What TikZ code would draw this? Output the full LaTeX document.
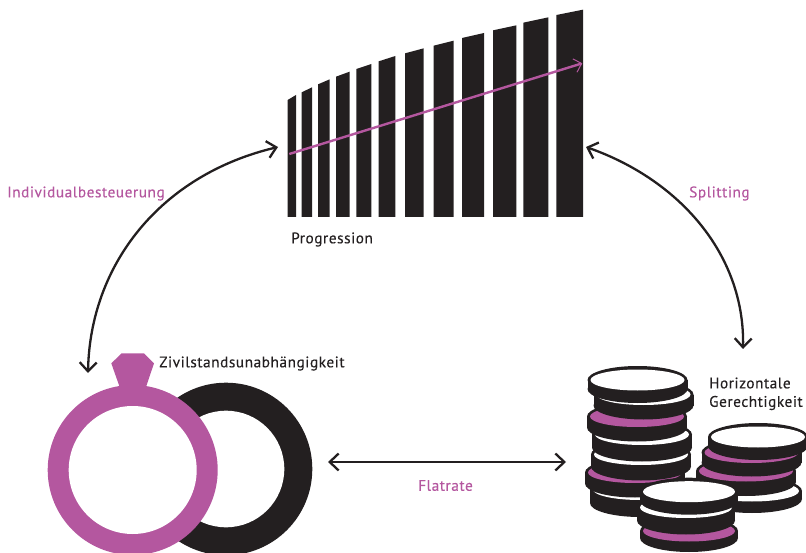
\documentclass[tikz,border=0pt]{standalone}
\usepackage{fontspec}
\setmainfont[LetterSpace=3.6,FakeBold=0.25]{PT Sans}
\usetikzlibrary{arrows.meta}
\definecolor{inkblack}{HTML}{231F20}
\definecolor{ringpink}{HTML}{B4579F}
\newcommand{\coin}[5]{% x, y, half width, face colour, thickness
  \fill[inkblack] (#1,#2) ellipse[x radius=#3,y radius=14];
  \fill[inkblack] (#1,#2+#5) ellipse[x radius=#3,y radius=14];
  \fill[inkblack] (#1-#3,#2) rectangle (#1+#3,#2+#5);
  \fill[#4] (#1,#2) ellipse[x radius=#3-3,y radius=10.5];
}
\begin{document}
\begin{tikzpicture}[x=1pt,y=-1pt,
    label/.style={font=\fontsize{15.3}{20}\selectfont,text=inkblack,anchor=west,inner sep=0pt},
    pinklabel/.style={label,text=ringpink},
    link/.style={draw=inkblack,line width=2.3pt,{Straight Barb[length=9pt,width=17pt]}-{Straight Barb[length=9pt,width=17pt]}}]
\useasboundingbox (0,0) rectangle (806,553);
\clip (0,0) rectangle (806,553);
% bars
\foreach \xa/\xb/\ya/\yb in {53/78/300/285,95/126/277/262,144/179/253/238,198/239/230/215,259/304/207/192,326/376/184/168,405/461/160/145,491/551/137/122,576/642/114/99,669/739/91/76,760/835/68/52,859/939/45/29}
  \fill[inkblack] (270+\xa/3,651/3) -- (270+\xa/3,\ya/3) -- (270+\xb/3,\yb/3) -- (270+\xb/3,651/3) -- cycle;
\coordinate (riseA) at (289.3,154);
\coordinate (riseB) at (582.3,63.3);
\draw[ringpink,line width=2.4pt,-{Straight Barb[length=7pt,width=14pt,line width=1pt]}] (riseA) -- (riseB);
% rings
\fill[inkblack] (226,469) circle[radius=86.3];
\fill[white] (226,469) circle[radius=58.3];
\fill[ringpink] (132.7,470) circle[radius=85];
\fill[white] (132.7,470) circle[radius=64];
\fill[ringpink] (121.7,353.3) -- (144,353.3) -- (154,363.3) -- (145.7,388) -- (120,388) -- (111.3,363.3) -- cycle;
% coins, left pile
\coin{640}{489.5}{50}{white}{13.5}
\coin{635}{472.5}{50}{ringpink}{11}
\coin{641}{454.5}{50}{white}{12}
\coin{642}{434.5}{50}{white}{13}
\coin{637}{416.5}{50}{ringpink}{11}
\coin{643.5}{394.5}{50}{white}{11}
\coin{637.5}{380}{50}{white}{9}
% coins, right pile
\coin{752}{491}{50}{white}{8}
\coin{746}{471}{50}{ringpink}{11}
\coin{751.5}{452.5}{50}{ringpink}{10}
\coin{758}{437}{50}{white}{9}
% coins, front pile
\coin{689}{531}{49}{ringpink}{7}
\coin{686}{507.5}{49}{white}{13}
\coin{689}{491.7}{49}{white}{9}
% arrows
\coordinate (ringEnd) at (88,373);
\coordinate (barsLeft) at (278,147);
\coordinate (barsRight) at (586,147);
\coordinate (coinEnd) at (743,349);
\coordinate (flatA) at (328,462);
\coordinate (flatB) at (566,462);
\draw[link] (ringEnd) .. controls (90,265) and (160,175) .. (barsLeft);
\draw[link] (barsRight) .. controls (680,180) and (745,255) .. (coinEnd);
\draw[link] (flatA) -- (flatB);
% labels
\node[pinklabel] (lblIndiv) at (7,193.5) {Individualbesteuerung};
\node[pinklabel] (lblSplit) at (689,193.5) {Splitting};
\node[pinklabel] (lblFlat) at (418,485.5) {Flatrate};
\node[label] (lblProg) at (291,239.5) {Progression};
\node[label] (lblZivil) at (159,363.5) {Zivilstandsunabhängigkeit};
\node[label] (lblHori) at (709,383) {Horizontale};
\node[label] (lblGer) at (709,403) {Gerechtigkeit};
\end{tikzpicture}
\end{document}
